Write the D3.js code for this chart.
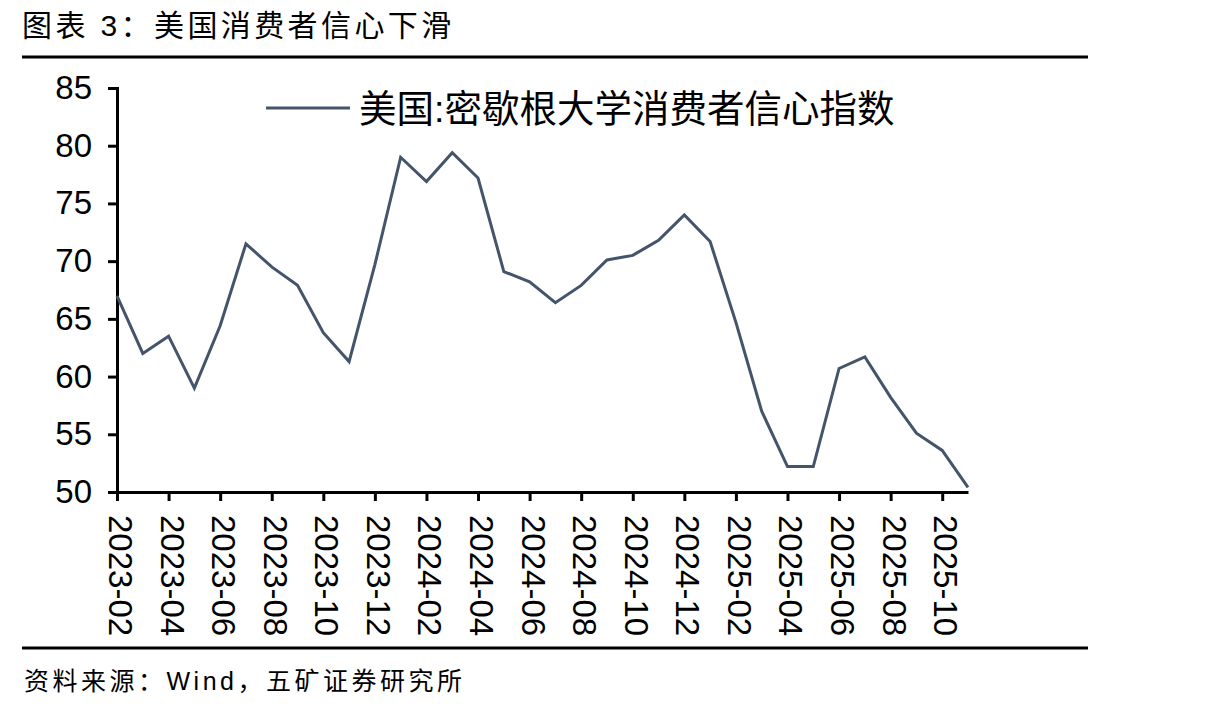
<!DOCTYPE html>
<html lang="zh">
<head>
<meta charset="UTF-8">
<title>美国消费者信心下滑</title>
<script src="https://d3js.org/d3.v7.min.js"></script>
<style>
    body { margin: 0; background: #fff; }
    text { font-family: "Liberation Sans", Arial, "Noto Sans CJK SC", sans-serif; fill: #000; }
    .cjk { font-family: "Liberation Sans", "Noto Sans CJK SC", sans-serif; }
</style>
</head>
<body>
<script>
    const width = 1220;
    const height = 707;

    // monthly data, 2023-02 .. 2025-11
    const months = [
        "2023-02","2023-03","2023-04","2023-05","2023-06","2023-07","2023-08","2023-09","2023-10","2023-11","2023-12",
        "2024-01","2024-02","2024-03","2024-04","2024-05","2024-06","2024-07","2024-08","2024-09","2024-10","2024-11","2024-12",
        "2025-01","2025-02","2025-03","2025-04","2025-05","2025-06","2025-07","2025-08","2025-09","2025-10","2025-11"
    ];
    const sentiment = [
        67.0, 62.0, 63.5, 59.0, 64.4, 71.5, 69.5, 67.9, 63.8, 61.3, 69.7,
        79.0, 76.9, 79.4, 77.2, 69.1, 68.2, 66.4, 67.9, 70.1, 70.5, 71.8, 74.0,
        71.7, 64.7, 57.0, 52.2, 52.2, 60.7, 61.7, 58.2, 55.1, 53.6, 50.4
    ];
    const xTickLabels = months.filter((d, i) => i % 2 === 0 && i < 33);
    const yTicks = [50, 55, 60, 65, 70, 75, 80, 85];

    const seriesName = "美国:密歇根大学消费者信心指数";
    const title = "图表 3：美国消费者信心下滑";
    const source = "资料来源：Wind，五矿证券研究所";

    const svg = d3.select("body").append("svg")
        .attr("width", width).attr("height", height);

    // title and rules
    svg.append("text").attr("class", "cjk")
        .attr("x", 22).attr("y", 36)
        .style("font-size", "30px")
        .style("letter-spacing", "3.4px")
        .text(title);
    svg.append("line").attr("x1", 22).attr("x2", 1088).attr("y1", 57).attr("y2", 57)
        .attr("stroke", "#000").attr("stroke-width", 3);
    svg.append("line").attr("x1", 22).attr("x2", 1088).attr("y1", 648).attr("y2", 648)
        .attr("stroke", "#000").attr("stroke-width", 3);
    svg.append("text").attr("class", "cjk")
        .attr("x", 24).attr("y", 690)
        .style("font-size", "25px")
        .style("letter-spacing", "3.5px")
        .text(source);

    const x = d3.scalePoint().domain(months).range([117, 968]);
    const y = d3.scaleLinear().domain([50, 85]).range([492, 88]);

    // y axis
    const yAxis = svg.append("g")
        .attr("transform", "translate(117,0)")
        .call(d3.axisLeft(y).tickValues(yTicks).tickSize(9).tickPadding(16));
    yAxis.selectAll("text").style("font-size", "33px");

    // x axis
    const xAxis = svg.append("g")
        .attr("transform", "translate(0,492)")
        .call(d3.axisBottom(x).tickValues(xTickLabels).tickSize(9).tickSizeOuter(0));
    xAxis.selectAll("text")
        .style("font-size", "33px")
        .attr("text-anchor", "start")
        .attr("transform", "rotate(90)")
        .attr("x", 23).attr("y", -3)
        .attr("dy", "0.35em");

    [yAxis, xAxis].forEach(g => {
        g.select(".domain").attr("stroke", "#000").attr("stroke-width", 3);
        g.selectAll(".tick line").attr("stroke", "#000").attr("stroke-width", 3);
    });

    // series line
    const line = d3.line()
        .x((d, i) => x(months[i]))
        .y(d => y(d));
    svg.append("path")
        .datum(sentiment)
        .attr("fill", "none")
        .attr("stroke", "#44546A")
        .attr("stroke-width", 3)
        .attr("stroke-linejoin", "miter")
        .attr("d", line);

    // legend
    svg.append("line").attr("x1", 266).attr("x2", 350).attr("y1", 108).attr("y2", 108)
        .attr("stroke", "#44546A").attr("stroke-width", 3);
    svg.append("text").attr("class", "cjk")
        .attr("x", 359).attr("y", 122)
        .style("font-size", "37.5px")
        .text(seriesName);
</script>
</body>
</html>
